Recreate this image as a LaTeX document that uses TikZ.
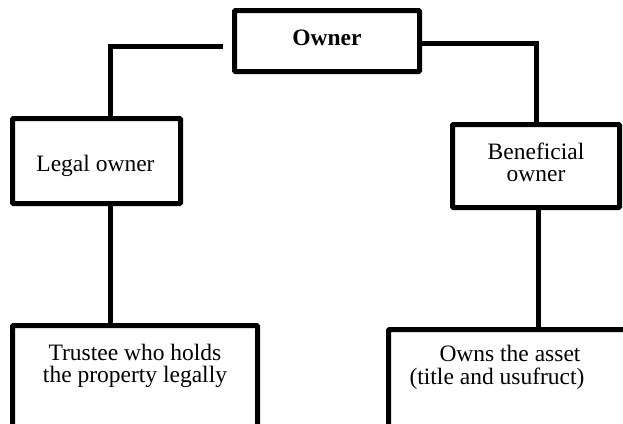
\documentclass[tikz,border=0pt]{standalone}
\usepackage{fontspec}
\setmainfont{Liberation Serif}
% two-line label whose baseline is that of its first line
\newcommand{\twolines}[2]{\begin{tabular}[t]{@{}c@{}}#1\\#2\end{tabular}}
\begin{document}
\begin{tikzpicture}[x=1pt,y=-1pt,
  box/.style={draw=black, line width=5pt, rounded corners=1pt,
              inner sep=0pt, outer sep=0pt},
  link/.style={draw=black, line width=5pt},
  lbl/.style={inner sep=0pt, anchor=base,
              font=\fontsize{23.5pt}{22pt}\selectfont}]

\useasboundingbox (0,0) rectangle (623,423);
\fill[white] (0,0) rectangle (623,423);
\clip (0,0) rectangle (623,423);

% boxes
\node[box, minimum width=185pt, minimum height=61pt]    (owner)    at (327,41)     {};
\node[box, minimum width=168pt, minimum height=85pt]    (legal)    at (96.5,161)   {};
\node[box, minimum width=167pt, minimum height=83pt]    (benef)    at (536,166)    {};
\node[box, minimum width=245pt, minimum height=114.5pt] (trustee)  at (135,382.75) {};
\node[box, minimum width=261.5pt, minimum height=110.5pt] (owns)   at (519.25,384.75) {};

% labels
\node[lbl] (t-owner) at (327,45)  {\bfseries Owner};
\node[lbl] (t-legal) at (95.5,171) {Legal owner};
\node[lbl] (t-benef) at (536,159) {\twolines{Beneficial}{owner}};
\node[lbl] (t-trust) at (135,360) {\twolines{Trustee who holds}{the property legally}};
\node[lbl] (t-owns)  at (497,361) {\twolines{\hspace*{26pt}Owns the asset}{(title and usufruct)}};

% connectors
\coordinate (lend) at (223,46);
\draw[link] (lend) -| ([xshift=13.5pt]legal.north);
\draw[link] ([yshift=-2pt]owner.east) -| (benef.north);
\draw[link] ([xshift=13.5pt]legal.south) -- ([xshift=13.5pt]legal.south |- trustee.north);
\draw[link] ([xshift=2pt]benef.south) -- ([xshift=2pt]benef.south |- owns.north);

\end{tikzpicture}
\end{document}
